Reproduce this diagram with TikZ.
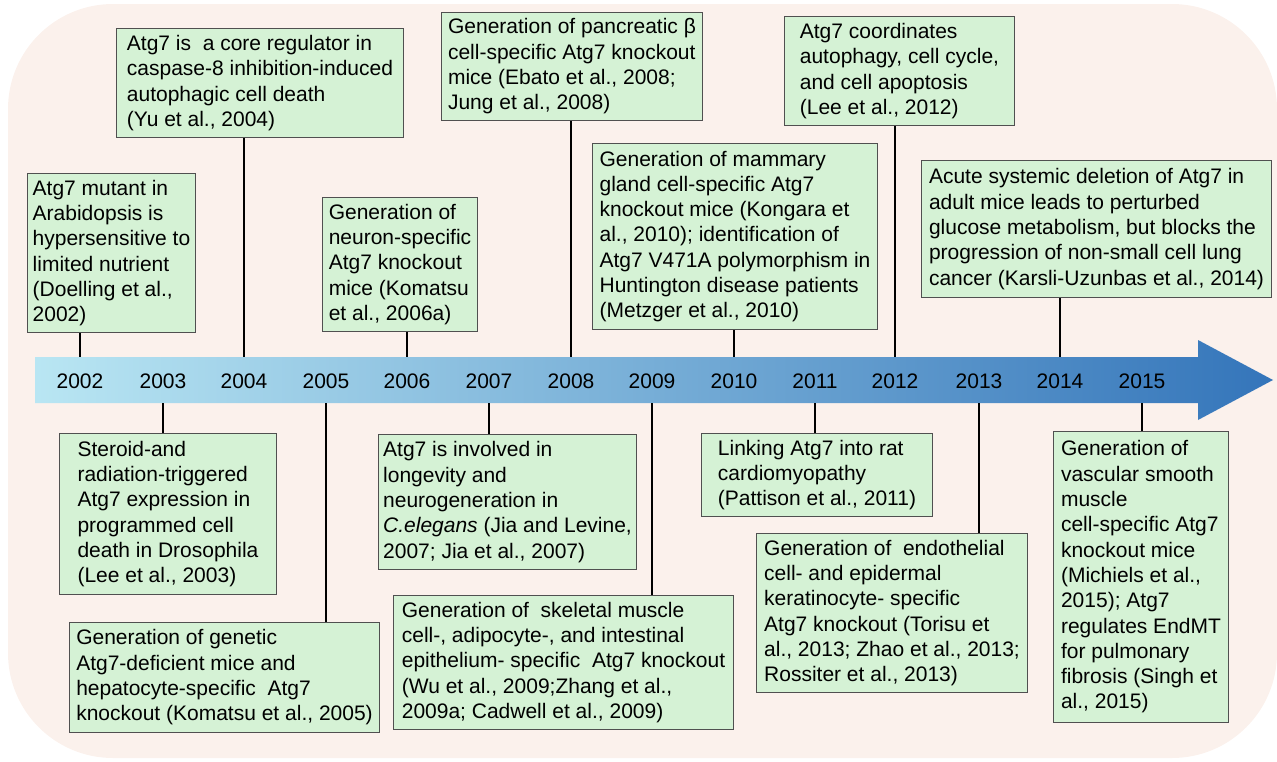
\documentclass[tikz,border=0pt]{standalone}
\usepackage{fontspec}
\setmainfont{Liberation Sans}

\definecolor{bgpink}{RGB}{251,241,236}
\definecolor{boxgreen}{RGB}{213,242,213}
\definecolor{boxedge}{RGB}{80,80,80}
\definecolor{bandleft}{RGB}{185,230,243}
\definecolor{bandmid}{RGB}{150,204,228}
\definecolor{bandright}{RGB}{52,117,186}

\begin{document}
\begin{tikzpicture}[x=1pt,y=-1pt,
  evbox/.style={draw=boxedge,line width=1pt,fill=boxgreen,align=left,anchor=north west,
    inner xsep=4pt,inner ysep=3pt,font=\fontsize{21}{25.3}\selectfont},
  yearlbl/.style={font=\fontsize{21}{25.3}\selectfont},
  tick/.style={line width=2pt,black}]
  \useasboundingbox (0,0) rectangle (1277,761);
  % background and time arrow
  \fill[bgpink,rounded corners=105] (8,4) rectangle (1277,758);
  \shade[left color=bandleft,middle color=bandmid,right color=bandright]
    (35,357) -- (1198,357) -- (1198,340) -- (1273,380) -- (1198,420)
    -- (1198,403) -- (35,403) -- cycle;
  \coordinate (bandN) at (35,357);
  \coordinate (bandS) at (35,403);
  % years
  \node[yearlbl] (y2002) at (80,381)   {2002};
  \node[yearlbl] (y2003) at (163,381)  {2003};
  \node[yearlbl] (y2004) at (244,381)  {2004};
  \node[yearlbl] (y2005) at (326,381)  {2005};
  \node[yearlbl] (y2006) at (407,381)  {2006};
  \node[yearlbl] (y2007) at (489,381)  {2007};
  \node[yearlbl] (y2008) at (571,381)  {2008};
  \node[yearlbl] (y2009) at (652,381)  {2009};
  \node[yearlbl] (y2010) at (734,381)  {2010};
  \node[yearlbl] (y2011) at (815,381)  {2011};
  \node[yearlbl] (y2012) at (895,381)  {2012};
  \node[yearlbl] (y2013) at (979,381)  {2013};
  \node[yearlbl] (y2014) at (1060,381) {2014};
  \node[yearlbl] (y2015) at (1142,381) {2015};
  % events above the arrow
  \node[evbox,minimum width=168,minimum height=159] (b2002) at (27,173)
    {Atg7 mutant in\\Arabidopsis is\\hypersensitive to\\limited nutrient\\(Doelling et al.,\\2002)};
  \node[evbox,minimum width=287,minimum height=109] (b2004) at (116,28)
    {Atg7 is\ \ a core regulator in\\caspase-8 inhibition-induced\\autophagic cell death\\(Yu et al., 2004)};
  \node[evbox,minimum width=155,minimum height=134] (b2006) at (322,197)
    {Generation of\\neuron-specific\\Atg7 knockout\\mice (Komatsu\\et al., 2006a)};
  \node[evbox,minimum width=261,minimum height=108] (b2008) at (441,12)
    {Generation of pancreatic β\\cell-specific Atg7 knockout\\mice (Ebato et al., 2008;\\Jung et al., 2008)};
  \node[evbox,minimum width=285,minimum height=186] (b2010) at (592,143)
    {Generation of mammary\\gland cell-specific Atg7\\knockout mice (Kongara et\\al., 2010); identification of\\Atg7 V471A polymorphism in\\Huntington disease patients\\(Metzger et al., 2010)};
  \node[evbox,minimum width=230,minimum height=109] (b2012) at (784,16)
    {Atg7 coordinates\\autophagy, cell cycle,\\and cell apoptosis\\(Lee et al., 2012)};
  \node[evbox,minimum width=350,minimum height=137] (b2014) at (921,160)
    {Acute systemic deletion of Atg7 in\\adult mice leads to perturbed\\glucose metabolism, but blocks the\\progression of non-small cell lung\\cancer (Karsli-Uzunbas et al., 2014)};
  % events below the arrow
  \node[evbox,minimum width=217,minimum height=161] (b2003) at (59,433)
    {Steroid-and\\radiation-triggered\\Atg7 expression in\\programmed cell\\death in Drosophila\\(Lee et al., 2003)};
  \node[evbox,minimum width=310,minimum height=110] (b2005) at (69,622)
    {Generation of genetic\\Atg7-deficient mice and\\hepatocyte-specific\ \ Atg7\\knockout (Komatsu et al., 2005)};
  \node[evbox,minimum width=258,minimum height=135] (b2007) at (378,434)
    {Atg7 is involved in\\longevity and\\neurogeneration in\\\textit{C.elegans} (Jia and Levine,\\2007; Jia et al., 2007)};
  \node[evbox,minimum width=340,minimum height=134] (b2009) at (393,595)
    {Generation of\ \ skeletal muscle\\cell-, adipocyte-, and intestinal\\epithelium- specific\ \ Atg7 knockout\\(Wu et al., 2009;Zhang et al.,\\2009a; Cadwell et al., 2009)};
  \node[evbox,minimum width=231,minimum height=83] (b2011) at (701,433)
    {Linking Atg7 into rat\\cardiomyopathy\\(Pattison et al., 2011)};
  \node[evbox,minimum width=271,minimum height=159] (b2013) at (756,533)
    {Generation of\ \ endothelial\\cell- and epidermal\\keratinocyte- specific\\Atg7 knockout (Torisu et\\al., 2013; Zhao et al., 2013;\\Rossiter et al., 2013)};
  \node[evbox,minimum width=175,minimum height=291] (b2015) at (1053,431)
    {Generation of\\vascular smooth\\muscle\\cell-specific Atg7\\knockout mice\\(Michiels et al.,\\2015); Atg7\\regulates EndMT\\for pulmonary\\fibrosis (Singh et\\al., 2015)};
  % ticks
  \draw[tick] (y2002 |- b2002.south) -- (y2002 |- bandN);
  \draw[tick] (y2004 |- b2004.south) -- (y2004 |- bandN);
  \draw[tick] (y2006 |- b2006.south) -- (y2006 |- bandN);
  \draw[tick] (y2008 |- b2008.south) -- (y2008 |- bandN);
  \draw[tick] (y2010 |- b2010.south) -- (y2010 |- bandN);
  \draw[tick] (y2012 |- b2012.south) -- (y2012 |- bandN);
  \draw[tick] (y2014 |- b2014.south) -- (y2014 |- bandN);
  \draw[tick] (y2003 |- bandS) -- (y2003 |- b2003.north);
  \draw[tick] (y2005 |- bandS) -- (y2005 |- b2005.north);
  \draw[tick] (y2007 |- bandS) -- (y2007 |- b2007.north);
  \draw[tick] (y2009 |- bandS) -- (y2009 |- b2009.north);
  \draw[tick] (y2011 |- bandS) -- (y2011 |- b2011.north);
  \draw[tick] (y2013 |- bandS) -- (y2013 |- b2013.north);
  \draw[tick] (y2015 |- bandS) -- (y2015 |- b2015.north);
\end{tikzpicture}
\end{document}
